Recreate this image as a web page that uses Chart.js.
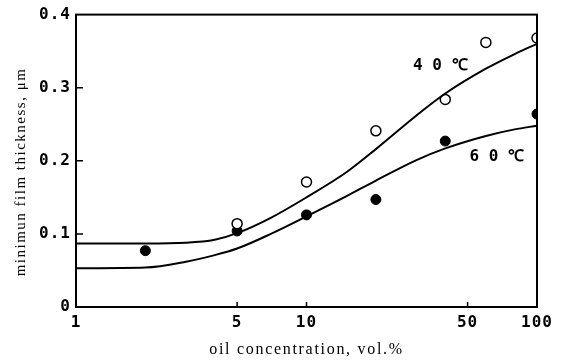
<!DOCTYPE html>
<html>
<head>
<meta charset="utf-8">
<script src="https://cdn.jsdelivr.net/npm/chart.js@4"></script>
<style>
  html, body { margin: 0; padding: 0; background: #fff; }
  #wrap { width: 562px; height: 363px; }
</style>
</head>
<body>
<div id="wrap"><canvas id="filmChart"></canvas></div>
<script>
// measured points
const conc40 = [5, 10, 20, 40, 60, 100];
const film40 = [0.114, 0.171, 0.241, 0.284, 0.362, 0.368];
const conc60 = [2, 5, 10, 20, 40, 100];
const film60 = [0.077, 0.104, 0.126, 0.147, 0.227, 0.264];

// fitted curves
const curveX = [1, 2, 3, 4, 5, 7, 10, 15, 20, 30, 40, 60, 80, 100];
const curve40 = [0.087, 0.087, 0.088, 0.092, 0.101, 0.122, 0.150, 0.185, 0.216, 0.262, 0.292, 0.326, 0.346, 0.360];
const curve60 = [0.053, 0.054, 0.062, 0.071, 0.080, 0.100, 0.124, 0.152, 0.173, 0.201, 0.217, 0.234, 0.243, 0.248];

const xTicks = [1, 5, 10, 50, 100];
const yTicks = [0, 0.1, 0.2, 0.3, 0.4];
const curveLabels = ['4 0 ℃', '6 0 ℃'];
const xTitle = 'oil concentration, vol.%';
const yTitle = 'minimun film thickness, μm';

const toXY = (xs, ys) => xs.map((x, i) => ({ x: x, y: ys[i] }));

// frame, inward tick marks, curve labels and axis titles
const framePlugin = {
    id: 'frame',
    beforeDraw(chart) {
        chart.ctx.letterSpacing = '1px';
    },
    afterDraw(chart) {
        const ctx = chart.ctx;
        const a = chart.chartArea;
        const xs = chart.scales.x, ys = chart.scales.y;
        ctx.save();
        ctx.strokeStyle = '#000';
        ctx.lineWidth = 2;
        ctx.strokeRect(a.left, a.top, a.right - a.left, a.bottom - a.top);
        ctx.lineWidth = 1.5;
        ctx.beginPath();
        yTicks.slice(1, -1).forEach(v => {
            const py = ys.getPixelForValue(v);
            ctx.moveTo(a.left, py);
            ctx.lineTo(a.left + 7, py);
        });
        xTicks.slice(1, -1).forEach(v => {
            const px = xs.getPixelForValue(v);
            ctx.moveTo(px, a.bottom);
            ctx.lineTo(px, a.bottom - 5);
        });
        ctx.stroke();

        ctx.fillStyle = '#000';
        ctx.letterSpacing = '0px';
        ctx.font = 'bold 16px "DejaVu Sans Mono"';
        ctx.textBaseline = 'middle';
        ctx.textAlign = 'left';
        ctx.fillText(curveLabels[0], xs.getPixelForValue(29), ys.getPixelForValue(0.330));
        ctx.fillText(curveLabels[1], xs.getPixelForValue(51), ys.getPixelForValue(0.206));

        // axis titles
        ctx.textAlign = 'center';
        ctx.letterSpacing = '1.7px';
        ctx.font = '16px "Liberation Serif"';
        ctx.fillText(xTitle, (a.left + a.right) / 2, 350);
        ctx.translate(21, 172);
        ctx.rotate(-Math.PI / 2);
        ctx.letterSpacing = '1.5px';
        ctx.font = '15px "Liberation Serif"';
        ctx.fillText(yTitle, 0, 0);
        ctx.restore();
    }
};

const ctx = document.getElementById('filmChart').getContext('2d');
new Chart(ctx, {
    type: 'scatter',
    data: {
        datasets: [
            {
                label: '40C curve',
                type: 'line',
                data: toXY(curveX, curve40),
                borderColor: '#000',
                borderWidth: 2,
                pointRadius: 0,
                cubicInterpolationMode: 'monotone',
                fill: false
            },
            {
                label: '60C curve',
                type: 'line',
                data: toXY(curveX, curve60),
                borderColor: '#000',
                borderWidth: 2,
                pointRadius: 0,
                cubicInterpolationMode: 'monotone',
                fill: false
            },
            {
                label: '40C',
                data: toXY(conc40, film40),
                pointRadius: 5,
                pointBackgroundColor: '#fff',
                pointBorderColor: '#000',
                pointBorderWidth: 1.5
            },
            {
                label: '60C',
                data: toXY(conc60, film60),
                pointRadius: 5,
                pointBackgroundColor: '#000',
                pointBorderColor: '#000',
                pointBorderWidth: 1
            }
        ]
    },
    options: {
        responsive: true,
        maintainAspectRatio: false,
        animation: false,
        layout: { padding: { left: 0, right: 25, top: 14, bottom: 0 } },
        plugins: {
            legend: { display: false },
            tooltip: { enabled: false }
        },
        scales: {
            x: {
                type: 'logarithmic',
                min: 1,
                max: 100,
                afterBuildTicks: axis => { axis.ticks = xTicks.map(v => ({ value: v })); },
                afterFit: axis => { axis.height = 56; },
                grid: { display: false, drawTicks: false },
                border: { display: false },
                ticks: {
                    autoSkip: false,
                    maxRotation: 0,
                    padding: 6,
                    color: '#000',
                    font: { family: 'DejaVu Sans Mono', weight: 'bold', size: 16 },
                    callback: v => String(v)
                }
            },
            y: {
                min: 0,
                max: 0.4,
                afterBuildTicks: axis => { axis.ticks = yTicks.map(v => ({ value: v })); },
                afterFit: axis => { axis.width = 76; },
                grid: { display: false, drawTicks: false },
                border: { display: false },
                ticks: {
                    padding: 5,
                    color: '#000',
                    font: { family: 'DejaVu Sans Mono', weight: 'bold', size: 16 },
                    callback: v => (v === 0 ? '0' : v.toFixed(1))
                }
            }
        }
    },
    plugins: [framePlugin]
});
</script>
</body>
</html>
